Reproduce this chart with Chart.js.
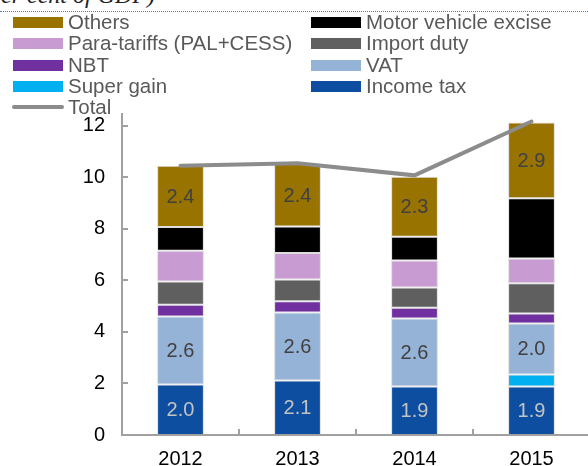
<!DOCTYPE html>
<html>
<head>
<meta charset="utf-8">
<script src="https://cdn.jsdelivr.net/npm/chart.js@4.4.1/dist/chart.umd.min.js"></script>
<style>
  html, body { margin: 0; padding: 0; background: #fff; overflow: hidden; width: 588px; height: 466px; }
  #wrap { position: absolute; left: 0; top: 0; width: 592px; height: 483px; }
  #unit { position: absolute; right: 433px; top: -18px; font: italic 24px "Liberation Serif", serif; color: #222; white-space: nowrap; }
  #dots { position: absolute; left: 0; top: 11px; width: 588px; border-top: 1px dotted #4f81bd; }
  .lg { position: absolute; font: 20.5px "Liberation Sans", Arial, sans-serif; color: #595959; line-height: 20px; white-space: nowrap; }
  .sw { position: absolute; width: 50px; height: 11px; }
</style>
</head>
<body>
<div id="unit">(Per cent of GDP)</div>
<div id="dots"></div>
<div id="wrap"><canvas id="c" width="592" height="483"></canvas></div>
<div id="legend"></div>
<script>
const years = ['2012', '2013', '2014', '2015'];

const incomeTax = [1.96, 2.12, 1.88, 1.88];
const superGain = [0, 0, 0, 0.47];
const vat = [2.64, 2.64, 2.64, 1.98];
const nbt = [0.46, 0.43, 0.42, 0.39];
const importDuty = [0.90, 0.85, 0.79, 1.17];
const paraTariffs = [1.19, 1.03, 1.04, 0.96];
const motorExcise = [0.92, 1.02, 0.93, 2.34];
const others = [2.38, 2.43, 2.33, 2.94];
const total = [10.45, 10.55, 10.08, 12.17];

const yTicks = [0, 2, 4, 6, 8, 10, 12];

function bar(label, data, color, labelColor) {
    return {
        type: 'bar', label: label, data: data, backgroundColor: color,
        borderColor: 'rgba(190,190,190,0.5)', borderWidth: 1, borderSkipped: false,
        stack: 'tax', order: 1, labelColor: labelColor
    };
}

const datasets = [
    bar('Income tax', incomeTax, '#0d4ea0', '#c3c3c3'),
    bar('Super gain', superGain, '#00b0f0'),
    bar('VAT', vat, '#95b3d7', '#404040'),
    bar('NBT', nbt, '#7030a0'),
    bar('Import duty', importDuty, '#5f5f5f'),
    bar('Para-tariffs (PAL+CESS)', paraTariffs, '#c89bd2'),
    bar('Motor vehicle excise', motorExcise, '#000000'),
    bar('Others', others, '#997300', '#404040'),
    {
        type: 'line', label: 'Total', data: total, borderColor: '#8c8c8c', borderWidth: 4,
        pointRadius: 0, tension: 0, stack: 'total', order: 0, borderCapStyle: 'round'
    }
];

// axes, inward ticks and segment value labels
const decor = {
    id: 'decor',
    afterDatasetsDraw(chart) {
        const ctx = chart.ctx;
        ctx.save();
        ctx.font = '20px "Liberation Sans", Arial, sans-serif';
        ctx.textAlign = 'center';
        ctx.textBaseline = 'middle';
        chart.data.datasets.forEach((ds, i) => {
            if (!ds.labelColor) return;
            ctx.fillStyle = ds.labelColor;
            chart.getDatasetMeta(i).data.forEach((el, j) => {
                ctx.fillText(ds.data[j].toFixed(1), el.x, (el.y + el.base) / 2 + 1);
            });
        });
        ctx.restore();
    },
    afterDraw(chart) {
        const ctx = chart.ctx, a = chart.chartArea;
        const x = chart.scales.x, y = chart.scales.y;
        ctx.save();
        ctx.strokeStyle = '#a0a0a0';
        ctx.lineWidth = 2;
        ctx.beginPath();
        ctx.moveTo(a.left, a.top);
        ctx.lineTo(a.left, a.bottom);
        ctx.lineTo(a.right + 2, a.bottom);
        yTicks.forEach(v => {
            const py = Math.round(y.getPixelForValue(v));
            ctx.moveTo(a.left, py);
            ctx.lineTo(a.left + 6, py);
        });
        for (let k = 1; k < years.length; k++) {
            const px = Math.round((x.getPixelForValue(k - 1) + x.getPixelForValue(k)) / 2);
            ctx.moveTo(px, a.bottom);
            ctx.lineTo(px, a.bottom - 6);
        }
        ctx.stroke();
        ctx.restore();
    }
};

const chart = new Chart(document.getElementById('c'), {
    data: { labels: years, datasets: datasets },
    options: {
        responsive: false,
        animation: false,
        devicePixelRatio: 1,
        layout: { padding: { top: 113, right: 2, bottom: 0, left: 0 } },
        plugins: { legend: { display: false }, tooltip: { enabled: false } },
        scales: {
            x: {
                stacked: true,
                grid: { display: false, drawTicks: false },
                border: { display: false },
                ticks: { color: '#000', padding: 12, font: { family: '"Liberation Sans", Arial, sans-serif', size: 20 } }
            },
            y: {
                stacked: true,
                min: 0, max: 12.5,
                grid: { display: false, drawTicks: false },
                border: { display: false },
                afterBuildTicks: s => { s.ticks = yTicks.map(v => ({ value: v })); },
                afterFit: s => { s.width = 122; },
                ticks: { color: '#000', padding: 17, font: { family: '"Liberation Sans", Arial, sans-serif', size: 20 } }
            }
        },
        datasets: { bar: { barPercentage: 0.4, categoryPercentage: 1 } }
    },
    plugins: [decor]
});

// two-column legend
const legendCols = [
    ['Others', 'Para-tariffs (PAL+CESS)', 'NBT', 'Super gain', 'Total'],
    ['Motor vehicle excise', 'Import duty', 'VAT', 'Income tax']
];
const legendEl = document.getElementById('legend');
legendCols.forEach((col, c) => {
    const sx = c === 0 ? 13 : 311;
    col.forEach((name, r) => {
        const ds = datasets.find(d => d.label === name);
        const cy = 22 + r * 21.3;
        const sw = document.createElement('div');
        sw.className = 'sw';
        if (ds.type === 'line') {
            sw.style.cssText = `left:${sx - 1}px;top:${cy - 2}px;width:52px;height:4px;border-radius:2px;background:${ds.borderColor}`;
        } else {
            sw.style.cssText = `left:${sx}px;top:${cy - 5}px;background:${ds.backgroundColor}`;
        }
        legendEl.appendChild(sw);
        const t = document.createElement('div');
        t.className = 'lg';
        t.style.left = (sx + 55) + 'px';
        t.style.top = (cy - 10) + 'px';
        t.textContent = name;
        legendEl.appendChild(t);
    });
});
</script>
</body>
</html>
